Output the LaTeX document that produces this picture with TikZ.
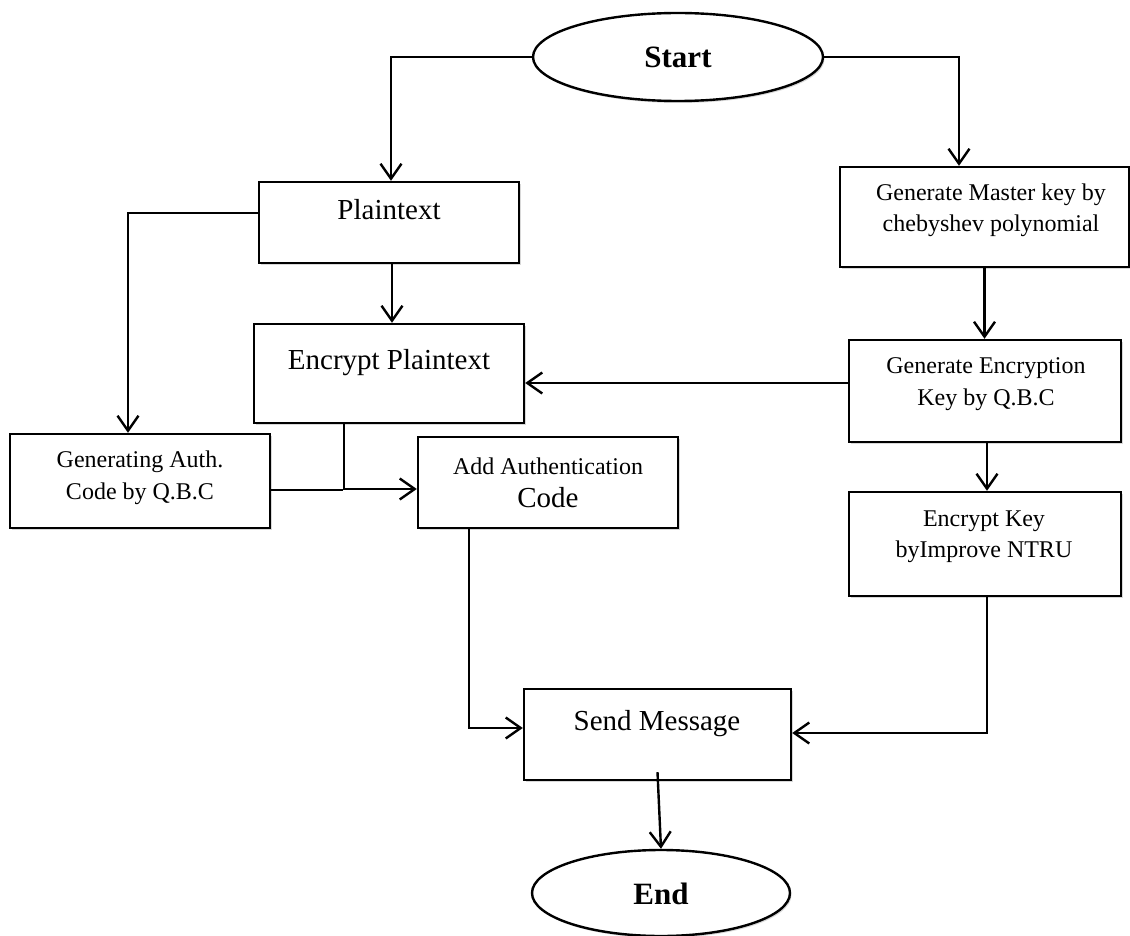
\documentclass[tikz,border=0pt]{standalone}
\usepackage{fontspec}
\setmainfont{Liberation Serif}
\usetikzlibrary{arrows.meta,shapes.geometric,shadows}
\begin{document}
\begin{tikzpicture}[x=1pt,y=-1pt,
  lw/.style={line width=2.4pt},
  boxshape/.style={draw,lw,rectangle,fill=white,inner sep=0pt,
    drop shadow={shadow xshift=1.5pt,shadow yshift=-2pt,opacity=0.3}},
  ovalshape/.style={draw,lw,ellipse,fill=white,inner sep=0pt,
    drop shadow={shadow xshift=1.5pt,shadow yshift=-2pt,opacity=0.3}},
  small/.style={anchor=base,inner sep=0pt,font=\fontsize{24}{32}\selectfont},
  large/.style={anchor=base,inner sep=0pt,font=\fontsize{29}{35}\selectfont},
  boldtxt/.style={anchor=base,inner sep=0pt,font=\fontsize{31}{37}\selectfont\bfseries},
  conn/.style={lw,-{Straight Barb[length=15pt,width=21pt]}},
  plainline/.style={lw}]
\fill[white] (0,0) rectangle (1130,936);
\useasboundingbox (0,0) rectangle (1130,936);

% shapes
\node[ovalshape,minimum width=290pt,minimum height=88pt] (start) at (678,57) {};
\node[boxshape,minimum width=260pt,minimum height=81pt] (plain) at (389,222.5) {};
\node[boxshape,minimum width=270pt,minimum height=99pt] (encp) at (389,373.5) {};
\node[boxshape,minimum width=260pt,minimum height=94pt] (gauth) at (140,481) {};
\node[boxshape,minimum width=260pt,minimum height=91pt] (addauth) at (548,482.5) {};
\node[boxshape,minimum width=289pt,minimum height=100pt] (master) at (984.5,217) {};
\node[boxshape,minimum width=272pt,minimum height=102pt] (genenc) at (985,391) {};
\node[boxshape,minimum width=272pt,minimum height=104pt] (enckey) at (985,544) {};
\node[boxshape,minimum width=267pt,minimum height=91pt] (send) at (657.5,734.5) {};
\node[ovalshape,minimum width=258pt,minimum height=86pt] (end) at (661,893) {};

% texts
\node[boldtxt] (startT) at (678,68) {Start};
\node[large] (plainT) at (389,220) {Plaintext};
\node[large] (encpT) at (389,369) {Encrypt Plaintext};
\node[small] (gauthT1) at (140,467) {Generating Auth.};
\node[small] (gauthT2) at (140,499) {Code by Q.B.C};
\node[small] (addT1) at (548,474) {Add Authentication};
\node[large] (addT2) at (548,507) {Code};
\node[small] (masterT1) at (991,201) {Generate Master key by};
\node[small] (masterT2) at (991,232) {chebyshev polynomial};
\node[small] (genencT1) at (986,373) {Generate Encryption};
\node[small] (genencT2) at (986,405) {Key by Q.B.C};
\node[small] (enckeyT1) at (984,526) {Encrypt Key};
\node[small] (enckeyT2) at (984,557) {byImprove NTRU};
\node[large] (sendT) at (657,730) {Send Message};
\node[boldtxt] (endT) at (661,904) {End};

% connectors
\draw[conn] (start.west) -| ([xshift=2pt]plain.north);
\draw[conn] (start.east) -| ([xshift=-25.5pt]master.north);
\draw[conn] ([yshift=9.5pt]plain.west) -| ([xshift=-12pt]gauth.north);
\draw[conn] ([xshift=3pt]plain.south) -- ([xshift=3pt]encp.north);
\draw[conn] (master.south) -- (master.south |- genenc.north);
\draw[conn] ([yshift=8pt]genenc.west) -- ([yshift=8pt]genenc.west -| encp.east);
\draw[conn] ([xshift=2pt]genenc.south) -- ([xshift=2pt]enckey.north);
\draw[conn] ([xshift=-45pt]encp.south) |- ([yshift=-6.5pt]addauth.west);
\coordinate (j1) at (343,490);
\draw[plainline] ([yshift=-9pt]gauth.east) -- (j1);
\draw[conn] ([xshift=-79pt]addauth.south) |- ([yshift=6.5pt]send.west);
\draw[conn] ([xshift=2pt]enckey.south) |- ([yshift=1.5pt]send.east);
\draw[conn] ([yshift=9pt]send.south) -- (end.north);
\end{tikzpicture}
\end{document}
